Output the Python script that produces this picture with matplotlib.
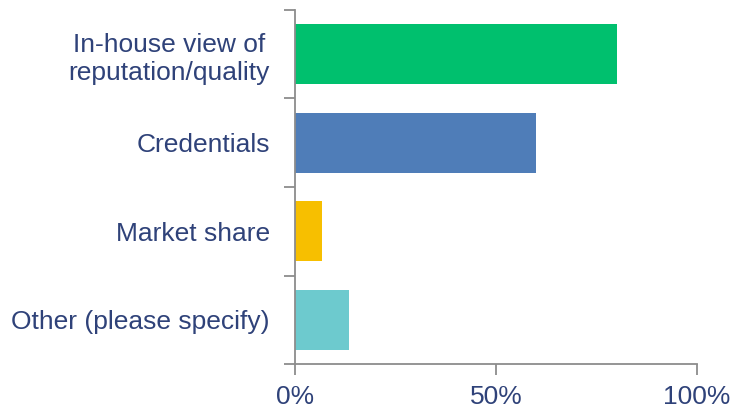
import matplotlib.pyplot as plt
from matplotlib.ticker import FixedLocator, PercentFormatter

plt.rcParams['font.family'] = ['Liberation Sans', 'DejaVu Sans']

categories = ["In-house view of\nreputation/quality", "Credentials",
              "Market share", "Other (please specify)"]
shares = [80.0, 60.0, 6.67, 13.33]
colors = ["#00C06E", "#4F7DB8", "#F7BF00", "#6DCACE"]

text_color = "#2F4279"
axis_color = "#8C8C8C"

fig = plt.figure(figsize=(7.34, 4.09), dpi=100)
ax = fig.add_axes([0.4019, 0.110, 0.5477, 0.8656])

pos = list(range(len(categories)))
ax.barh(pos, shares, height=0.68, color=colors)

ax.set_xlim(0, 100)
ax.set_ylim(len(categories) - 0.5, -0.5)

# category labels sit between the tick marks
ax.yaxis.set_major_locator(FixedLocator([i - 0.5 for i in range(len(categories) + 1)]))
ax.yaxis.set_minor_locator(FixedLocator(pos))
ax.set_yticklabels([], minor=False)
ax.set_yticklabels(categories, minor=True, fontsize=19, color=text_color,
                   ha="right", multialignment="center", linespacing=1.2)
ax.tick_params(axis="y", which="major", length=8, width=1.3, color=axis_color)
ax.tick_params(axis="y", which="minor", length=0, pad=18)

ax.set_xticks([0, 50, 100])
ax.xaxis.set_major_formatter(PercentFormatter(decimals=0))
ax.tick_params(axis="x", length=8, width=1.3, color=axis_color,
               labelsize=19, labelcolor=text_color, pad=7)

for side in ["top", "right"]:
    ax.spines[side].set_visible(False)
for side in ["left", "bottom"]:
    ax.spines[side].set_color(axis_color)
    ax.spines[side].set_linewidth(1.3)

fig.savefig("out.png", dpi=100)
